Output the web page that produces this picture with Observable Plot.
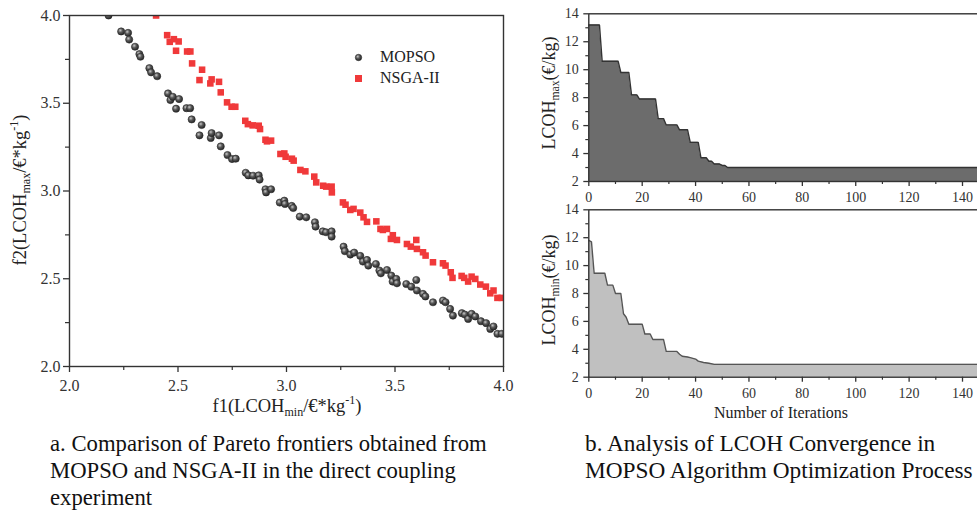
<!DOCTYPE html>
<html>
<head>
<meta charset="utf-8">
<script src="https://cdn.jsdelivr.net/npm/d3@7"></script>
<script src="https://cdn.jsdelivr.net/npm/@observablehq/plot@0.6"></script>
<style>
  html, body { margin: 0; padding: 0; background: #fff; }
  #page { position: relative; width: 977px; height: 515px; overflow: hidden;
          font-family: "Liberation Serif", "Times New Roman", serif; color: #222; }
  .panel { position: absolute; }
  .lbl { position: absolute; white-space: nowrap; transform: translate(-50%, -50%); color: #222; }
  .rot { transform: translate(-50%, -50%) rotate(-90deg); }
  .lbl sub, .lbl sup { font-size: 65%; line-height: 0; }
  .cap { position: absolute; line-height: 27px; color: #111; white-space: nowrap; }
  .legend { position: absolute; font-size: 16px; color: #222; }
  .legend div { position: absolute; white-space: nowrap; transform: translateY(-50%); }
</style>
</head>
<body>
<div id="page"></div>
<script>
// ---- Pareto fronts (f1 = LCOH_min, f2 = LCOH_max, €/kg) ----
const mopsoF1 = [2.18, 2.238, 2.27, 2.275, 2.302, 2.322, 2.327, 2.368, 2.376, 2.404, 2.454, 2.465, 2.476, 2.491, 2.505,
  2.539, 2.556, 2.563, 2.609, 2.599, 2.651, 2.655, 2.689, 2.697, 2.728, 2.749, 2.766, 2.812, 2.824, 2.846, 2.872, 2.876,
  2.903, 2.906, 2.929, 2.969, 2.99, 2.993, 3.024, 3.031, 3.061, 3.091, 3.131, 3.134, 3.167, 3.182, 3.208, 3.208, 3.263,
  3.269, 3.294, 3.312, 3.34, 3.352, 3.371, 3.377, 3.412, 3.428, 3.435, 3.463, 3.483, 3.489, 3.506, 3.509, 3.552, 3.575,
  3.598, 3.601, 3.629, 3.64, 3.675, 3.721, 3.733, 3.754, 3.767, 3.808, 3.822, 3.837, 3.853, 3.87, 3.896, 3.92, 3.939,
  3.954, 3.972, 3.992];
const mopsoF2 = [4.0, 3.909, 3.901, 3.863, 3.822, 3.78, 3.765, 3.7, 3.676, 3.654, 3.556, 3.518, 3.537, 3.469, 3.524,
  3.472, 3.472, 3.408, 3.376, 3.317, 3.302, 3.33, 3.317, 3.254, 3.205, 3.182, 3.184, 3.104, 3.089, 3.087, 3.089, 3.065,
  3.01, 2.992, 3.01, 2.934, 2.945, 2.926, 2.915, 2.903, 2.854, 2.85, 2.822, 2.797, 2.77, 2.765, 2.77, 2.74, 2.683,
  2.657, 2.638, 2.649, 2.63, 2.598, 2.607, 2.575, 2.584, 2.547, 2.531, 2.55, 2.518, 2.484, 2.499, 2.474, 2.47, 2.455,
  2.493, 2.433, 2.414, 2.399, 2.366, 2.376, 2.366, 2.328, 2.29, 2.304, 2.296, 2.271, 2.3, 2.285, 2.258, 2.247, 2.214,
  2.228, 2.186, 2.186];
const nsgaF1 = [2.399, 2.45, 2.462, 2.481, 2.491, 2.503, 2.542, 2.557, 2.565, 2.611, 2.599, 2.649, 2.655, 2.689, 2.697,
  2.726, 2.747, 2.764, 2.81, 2.822, 2.844, 2.872, 2.878, 2.903, 2.91, 2.929, 2.972, 2.99, 2.996, 3.025, 3.033, 3.064,
  3.087, 3.128, 3.137, 3.169, 3.183, 3.208, 3.209, 3.26, 3.272, 3.294, 3.309, 3.34, 3.355, 3.371, 3.414, 3.433, 3.444,
  3.463, 3.481, 3.49, 3.509, 3.555, 3.573, 3.598, 3.601, 3.629, 3.641, 3.675, 3.721, 3.733, 3.757, 3.765, 3.807, 3.819,
  3.837, 3.853, 3.87, 3.893, 3.919, 3.939, 3.954, 3.972, 3.992];
const nsgaF2 = [4.0, 3.888, 3.85, 3.865, 3.799, 3.852, 3.795, 3.795, 3.727, 3.691, 3.632, 3.613, 3.636, 3.622, 3.562,
  3.505, 3.48, 3.48, 3.4, 3.381, 3.374, 3.372, 3.353, 3.292, 3.283, 3.287, 3.211, 3.214, 3.195, 3.184, 3.173, 3.12,
  3.112, 3.082, 3.049, 3.03, 3.025, 3.025, 2.992, 2.935, 2.922, 2.892, 2.898, 2.877, 2.85, 2.824, 2.827, 2.784, 2.778,
  2.784, 2.727, 2.748, 2.721, 2.698, 2.683, 2.721, 2.67, 2.651, 2.632, 2.594, 2.588, 2.575, 2.537, 2.505, 2.516, 2.505,
  2.484, 2.512, 2.499, 2.467, 2.455, 2.417, 2.433, 2.391, 2.391];
const paretoTicks = [2.0, 2.5, 3.0, 3.5, 4.0];
const paretoMinor = [2.25, 2.75, 3.25, 3.75];

// ---- Convergence history of the best LCOH (€/kg) per iteration ----
const iterMax = [0, 4, 5, 11, 12, 15, 16, 18, 19, 25, 26, 28, 29, 33, 34, 37, 38, 41, 42, 44, 45, 46, 47, 49, 50, 51, 52, 150];
const lcohMax = [13.2, 13.2, 10.6, 10.6, 9.8, 9.8, 8.2, 8.2, 7.9, 7.9, 6.5, 6.5, 6.05, 6.05, 5.7, 5.7, 4.8, 4.8,
  3.7, 3.7, 3.45, 3.45, 3.25, 3.25, 3.15, 3.15, 3.0, 3.0];
const iterMin = [0, 1, 2, 6, 7, 9, 10, 12, 13, 14, 15, 20, 21, 23, 24, 28, 29, 33, 34, 35, 37, 38, 40, 41, 43, 45, 47, 150];
const lcohMin = [11.8, 11.7, 9.45, 9.45, 8.6, 8.6, 8.0, 8.0, 6.55, 6.3, 5.8, 5.8, 5.1, 5.1, 4.7, 4.7, 3.85, 3.85,
  3.65, 3.5, 3.45, 3.4, 3.3, 3.15, 3.05, 3.0, 2.92, 2.92];
const iterTicks = [0, 20, 40, 60, 80, 100, 120, 140];
const iterMinor = [10, 30, 50, 70, 90, 110, 130, 150];
const lcohTicks = [2, 4, 6, 8, 10, 12, 14];
const lcohMinor = [3, 5, 7, 9, 11, 13];

const serif = '"Liberation Serif", "Times New Roman", serif';
const page = document.getElementById("page");
const ink = "#333";

function place(el, left, top) {
  el.classList.add("panel");
  el.style.left = left + "px";
  el.style.top = top + "px";
  page.appendChild(el);
}

// ---------- a. Pareto fronts ----------
const mopso = mopsoF1.map((f1, i) => ({f1, f2: mopsoF2[i]}));
const nsga = nsgaF1.map((f1, i) => ({f1, f2: nsgaF2[i]}));

const pareto = Plot.plot({
  width: 520, height: 430,
  marginLeft: 69, marginRight: 17, marginTop: 15, marginBottom: 64,
  style: {fontFamily: serif, fontSize: "16px", color: ink, background: "transparent", overflow: "visible"},
  x: {domain: [2, 4]},
  y: {domain: [2, 4]},
  marks: [
    Plot.dot(nsga, {x: "f1", y: "f2", symbol: "square", r: 3.7, fill: "#f0393a", clip: true}),
    Plot.dot(mopso, {x: "f1", y: "f2", r: 3.6, fill: "url(#sphere)", stroke: "#262626", strokeWidth: 0.6, clip: true}),
    Plot.frame({stroke: ink, strokeWidth: 1.4}),
    Plot.axisX({ticks: paretoTicks, tickFormat: d3.format(".1f"), tickSize: 6, tickPadding: 7, label: null, strokeWidth: 1.3}),
    Plot.axisX({ticks: paretoMinor, tickFormat: () => "", tickSize: 4, label: null, strokeWidth: 1.2}),
    Plot.axisY({ticks: paretoTicks, tickFormat: d3.format(".1f"), tickSize: 6, tickPadding: 3, label: null, strokeWidth: 1.3}),
    Plot.axisY({ticks: paretoMinor, tickFormat: () => "", tickSize: 4, label: null, strokeWidth: 1.2})
  ]
});
// shaded sphere fill for the MOPSO markers
const defs = d3.select(pareto).insert("defs", ":first-child");
const grad = defs.append("radialGradient").attr("id", "sphere").attr("cx", "38%").attr("cy", "35%").attr("r", "65%");
grad.append("stop").attr("offset", "0%").attr("stop-color", "#c8c8c8");
grad.append("stop").attr("offset", "45%").attr("stop-color", "#5a5a5a");
grad.append("stop").attr("offset", "100%").attr("stop-color", "#262626");
place(pareto, 0, 0);

// ---------- b. Convergence ----------
function convergence(iters, values, fill, stroke, top, opts) {
  const data = iters.map((it, i) => ({it, v: values[i]}));
  const chart = Plot.plot({
    width: 470, height: opts.height,
    marginLeft: 58.3, marginRight: 11.3, marginTop: opts.marginTop, marginBottom: opts.marginBottom,
    style: {fontFamily: serif, fontSize: "14px", color: ink, background: "transparent", overflow: "visible"},
    x: {domain: [0, 150]},
    y: {domain: [2, 14]},
    marks: [
      Plot.areaY(data, {x: "it", y1: 2, y2: "v", fill}),
      Plot.lineY(data, {x: "it", y: "v", stroke, strokeWidth: 1.4}),
      Plot.frame({stroke: ink, strokeWidth: 1.4}),
      Plot.axisX({ticks: iterTicks, tickSize: 5, tickPadding: 6, label: null, strokeWidth: 1.3}),
      Plot.axisX({ticks: iterMinor, tickFormat: () => "", tickSize: 3, label: null, strokeWidth: 1.2}),
      Plot.axisY({ticks: lcohTicks, tickSize: 5, tickPadding: 5, label: null, strokeWidth: 1.3}),
      Plot.axisY({ticks: lcohMinor, tickFormat: () => "", tickSize: 3, label: null, strokeWidth: 1.2})
    ]
  });
  place(chart, 530, top);
}
convergence(iterMax, lcohMax, "#6c6c6c", "#333", 0, {height: 206, marginTop: 13.3, marginBottom: 25});
convergence(iterMin, lcohMin, "#c0c0c0", "#555", 190, {height: 230, marginTop: 19.3, marginBottom: 43.3});

// ---------- axis titles, legend, captions ----------
function label(html, x, y, size, rotate) {
  const d = document.createElement("div");
  d.className = "lbl" + (rotate ? " rot" : "");
  d.style.left = x + "px";
  d.style.top = y + "px";
  d.style.fontSize = size + "px";
  d.innerHTML = html;
  page.appendChild(d);
}
label("f1(LCOH<sub>min</sub>/€*kg<sup>-1</sup>)", 287, 406, 18.5, false);
label("f2(LCOH<sub>max</sub>/€*kg<sup>-1</sup>)", 20, 190, 18.5, true);
label("LCOH<sub>max</sub>(€/kg)", 549, 93, 18, true);
label("LCOH<sub>min</sub>(€/kg)", 549, 290, 18, true);
label("Number of Iterations", 781, 413, 16, false);

const legend = document.createElement("div");
legend.className = "legend";
legend.style.left = "0px"; legend.style.top = "0px";
legend.innerHTML =
  '<div style="left:354px;top:57px"><svg width="9" height="9"><circle cx="4.5" cy="4.5" r="3.2" fill="url(#sphere)" stroke="#262626" stroke-width="0.6"/></svg></div>' +
  '<div style="left:380px;top:57px">MOPSO</div>' +
  '<div style="left:354px;top:78px"><svg width="9" height="9"><rect x="1" y="1" width="7" height="7" fill="#f0393a"/></svg></div>' +
  '<div style="left:380px;top:78px">NSGA-II</div>';
page.appendChild(legend);

function caption(lines, x, y, size) {
  const d = document.createElement("div");
  d.className = "cap";
  d.style.left = x + "px";
  d.style.top = y + "px";
  d.style.fontSize = size + "px";
  d.innerHTML = lines.join("<br>");
  page.appendChild(d);
}
caption(["a. Comparison of Pareto frontiers obtained from",
         "MOPSO and NSGA-II in the direct coupling",
         "experiment"], 50, 429.5, 22.7);
caption(["b. Analysis of LCOH Convergence in",
         "MOPSO Algorithm Optimization Process"], 585, 430, 23.3);
</script>
</body>
</html>
